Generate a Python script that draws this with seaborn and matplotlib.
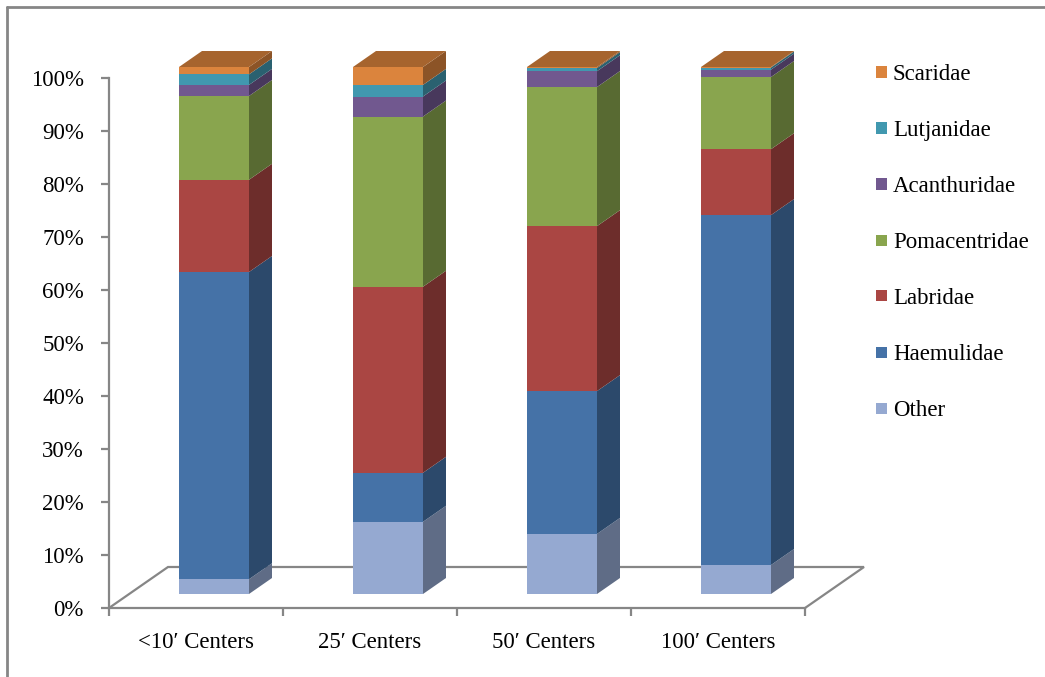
import numpy as np
import pandas as pd
import matplotlib
matplotlib.use("Agg")
import matplotlib.pyplot as plt
import matplotlib.colors as mcolors
from matplotlib.patches import Polygon, Rectangle
from matplotlib.lines import Line2D
import seaborn as sns

# ---- data: percentage composition of fish families by site ----
sites = ["<10\u2032 Centers", "25\u2032 Centers", "50\u2032 Centers", "100\u2032 Centers"]
families = ["Other", "Haemulidae", "Labridae", "Pomacentridae",
            "Acanthuridae", "Lutjanidae", "Scaridae"]
other = [2.8, 13.7, 11.4, 5.5]
haemulidae = [58.3, 9.3, 27.1, 66.4]
labridae = [17.5, 35.3, 31.3, 12.5]
pomacentridae = [15.9, 32.3, 26.4, 13.7]
acanthuridae = [2.1, 3.8, 3.0, 1.4]
lutjanidae = [2.0, 2.2, 0.6, 0.4]
scaridae = [1.4, 3.4, 0.2, 0.1]
yticks = list(range(0, 101, 10))

series = [other, haemulidae, labridae, pomacentridae,
          acanthuridae, lutjanidae, scaridae]

front_colors = {
    "Other": "#95A9D1",
    "Haemulidae": "#4572A7",
    "Labridae": "#AA4643",
    "Pomacentridae": "#89A54E",
    "Acanthuridae": "#71588F",
    "Lutjanidae": "#4198AF",
    "Scaridae": "#DB843D",
}


def shade(c, f):
    r, g, b = mcolors.to_rgb(c)
    return (r * f, g * f, b * f)


# long table with cumulative tops for the stacked bars
vals = np.array(series)
cum = np.cumsum(vals, axis=0)
rows = []
for k, fam in enumerate(families):
    for i, s in enumerate(sites):
        rows.append({"site": s, "family": fam,
                     "bottom": cum[k, i] - vals[k, i], "top": cum[k, i]})
df = pd.DataFrame(rows)

sns.set_theme(style="white")
plt.rcParams["font.family"] = ["Liberation Serif", "DejaVu Serif"]
FS = 16.5
GRAY = "#868686"

W, H = 1045, 677
fig = plt.figure(figsize=(W / 100, H / 100), dpi=100)
fig.patch.set_facecolor("white")

# main axes: y axis and floor
x0, y0, aw, ah = 109, 608, 696, 530
ax = fig.add_axes([x0 / W, (H - y0) / H, aw / W, ah / H])
ax.set_xlim(-0.5, len(sites) - 0.5)
ax.set_ylim(0, 100)
ax.patch.set_alpha(0)
for sp in ["top", "right"]:
    ax.spines[sp].set_visible(False)
for sp in ["left", "bottom"]:
    ax.spines[sp].set_color(GRAY)
    ax.spines[sp].set_linewidth(1.6)

ax.set_yticks(yticks)
ax.set_yticklabels([f"{v}%" for v in yticks])
ax.tick_params(axis="y", left=True, length=6, width=1.6, color=GRAY,
               pad=12, labelsize=FS, labelcolor="black")
ax.set_xticks(range(len(sites)))
ax.set_xticklabels(sites)
ax.tick_params(axis="x", which="major", bottom=True, length=0, pad=17,
               labelsize=FS, labelcolor="black")
ax.set_xticks(np.arange(-0.5, len(sites), 1.0), minor=True)
ax.tick_params(axis="x", which="minor", bottom=True, length=6, width=1.6,
               color=GRAY, direction="out")
ax.grid(False)

px_x = aw / len(sites)   # pixels per category
px_y = ah / 100.0        # pixels per percent

# floor outline (back edge and diagonals)
fdx, fdy = 59 / px_x, 41 / px_y
n = len(sites)
floor = Line2D([-0.5, -0.5 + fdx, n - 0.5 + fdx, n - 0.5],
               [0, fdy, fdy, 0], color=GRAY, lw=1.6, clip_on=False,
               solid_joinstyle="miter")
ax.add_line(floor)

# bar axes, shifted into the depth of the floor
bh = 527
bx = fig.add_axes([(x0 + 18) / W, (H - y0 + 14) / H, aw / W, bh / H])
bar_w = 70 / px_x
sns.barplot(data=df, x="site", y="top", hue="family",
            hue_order=families[::-1], order=sites,
            palette=front_colors, dodge=False, width=bar_w,
            saturation=1, linewidth=0, legend=False, ax=bx)
bx.set_xlim(-0.5, n - 0.5)
bx.set_ylim(0, 100)
bx.patch.set_alpha(0)
bx.axis("off")

# side and top faces for the 3-D look
ddx, ddy = 23 / px_x, 16 / (bh / 100.0)
for i, s in enumerate(sites):
    xr = i + bar_w / 2
    xl = i - bar_w / 2
    for k, fam in enumerate(families):
        b = cum[k, i] - vals[k, i]
        t = cum[k, i]
        side = Polygon([(xr, b), (xr + ddx, b + ddy), (xr + ddx, t + ddy), (xr, t)],
                       closed=True, facecolor=shade(front_colors[fam], 0.64),
                       edgecolor="none", clip_on=False)
        bx.add_patch(side)
    top_val = cum[-1, i]
    top = Polygon([(xl, top_val), (xr, top_val), (xr + ddx, top_val + ddy),
                   (xl + ddx, top_val + ddy)], closed=True,
                  facecolor=shade(front_colors[families[-1]], 0.76),
                  edgecolor="none", clip_on=False)
    bx.add_patch(top)

# legend, top entry first
for j, fam in enumerate(families[::-1]):
    yc = 72 + 56 * j
    fig.add_artist(Rectangle((876 / W, (H - yc - 5.5) / H), 11 / W, 11 / H,
                             transform=fig.transFigure,
                             facecolor=front_colors[fam], edgecolor="none"))
    fig.text(893 / W, (H - yc) / H, fam, fontsize=FS, va="center_baseline",
             ha="left", color="black")

# outer frame lines
fig.add_artist(Line2D([7 / W, 1], [1 - 7 / H, 1 - 7 / H], color=GRAY, lw=2,
                      transform=fig.transFigure))
fig.add_artist(Line2D([7 / W, 7 / W], [0, 1 - 7 / H], color=GRAY, lw=2,
                      transform=fig.transFigure))

fig.savefig("out.png", dpi=100)
